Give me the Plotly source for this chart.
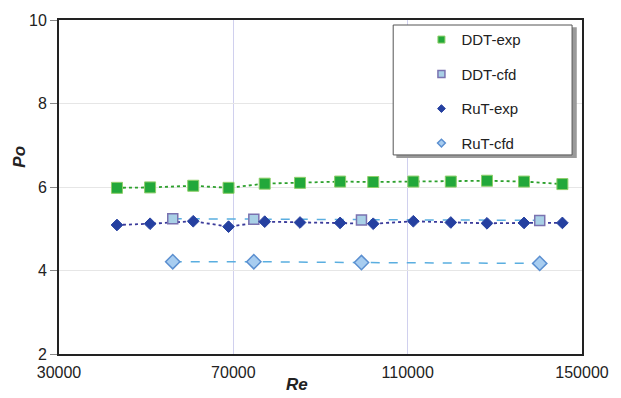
import plotly.graph_objects as go

# Data
re_exp = [43300, 50900, 60800, 68900, 77200, 85300, 94500, 102100, 111300, 119900, 128200, 136700, 145500]
po_ddt_exp = [5.98, 5.99, 6.03, 5.98, 6.08, 6.10, 6.13, 6.12, 6.13, 6.13, 6.15, 6.13, 6.07]
po_rut_exp = [5.09, 5.12, 5.18, 5.05, 5.17, 5.15, 5.14, 5.12, 5.18, 5.15, 5.13, 5.14, 5.14]
re_cfd = [56100, 74700, 99400, 140300]
po_ddt_cfd = [5.24, 5.23, 5.21, 5.20]
po_rut_cfd = [4.21, 4.21, 4.19, 4.17]

x_ticks = [30000, 70000, 110000, 150000]
y_ticks = [2, 4, 6, 8, 10]

series_names = ["DDT-exp", "DDT-cfd", "RuT-exp", "RuT-cfd"]

styles = {
    "DDT-exp": dict(symbol="square", color="#22a83a", line=dict(color="#8fcf6a", width=1)),
    "DDT-cfd": dict(symbol="square", color="#a9d0e6", line=dict(color="#7a72b0", width=1.5)),
    "RuT-exp": dict(symbol="diamond", color="#2540a0", line=dict(color="#2540a0", width=1)),
    "RuT-cfd": dict(symbol="diamond", color="#a8cdf0", line=dict(color="#5b8fd0", width=1.5)),
}

fig = go.Figure()

# connecting lines
fig.add_trace(go.Scatter(x=re_exp, y=po_ddt_exp, mode="lines", showlegend=False,
                         line=dict(color="#2ca02c", width=1.8, dash="dot"), hoverinfo="skip"))
fig.add_trace(go.Scatter(x=re_exp, y=po_rut_exp, mode="lines", showlegend=False,
                         line=dict(color="#3a3a9a", width=1.8, dash="dot"), hoverinfo="skip"))
fig.add_trace(go.Scatter(x=re_cfd, y=po_ddt_cfd, mode="lines", showlegend=False,
                         line=dict(color="#5aaee0", width=1.5, dash="dash"), hoverinfo="skip"))
fig.add_trace(go.Scatter(x=re_cfd, y=po_rut_cfd, mode="lines", showlegend=False,
                         line=dict(color="#5aaee0", width=1.5, dash="dash"), hoverinfo="skip"))

# markers
data_sets = {
    "DDT-exp": (re_exp, po_ddt_exp, 11),
    "DDT-cfd": (re_cfd, po_ddt_cfd, 10),
    "RuT-exp": (re_exp, po_rut_exp, 9),
    "RuT-cfd": (re_cfd, po_rut_cfd, 11),
}
for nm in series_names:
    xs, ys, sz = data_sets[nm]
    st = styles[nm]
    fig.add_trace(go.Scatter(x=xs, y=ys, mode="markers", name=nm, showlegend=False,
                             marker=dict(size=sz, **st)))

# legend entries (small symbols as in the original legend)
legend_sizes = {"DDT-exp": 7, "DDT-cfd": 7, "RuT-exp": 6, "RuT-cfd": 6}
for i, nm in enumerate(series_names):
    fig.add_trace(go.Scatter(x=[None], y=[None], mode="markers", name=nm, legendgroup=str(i),
                             marker=dict(size=legend_sizes[nm], **styles[nm])))

# legend box (decoration) with shadow
fig.add_shape(type="rect", xref="paper", yref="paper", x0=0.645, x1=0.990, y0=0.587, y1=0.978,
              line=dict(width=0), fillcolor="#9a9a9a", layer="above")
fig.add_shape(type="rect", xref="paper", yref="paper", x0=0.639, x1=0.981, y0=0.596, y1=0.985,
              line=dict(color="#555555", width=1), fillcolor="white", layer="above")

fig.add_annotation(text="<b><i>Po</i></b>", xref="paper", yref="paper", x=-0.097, y=0.59,
                   showarrow=False, textangle=-90, font=dict(size=17, color="#222222"))
fig.add_annotation(text="<b><i>Re</i></b>", xref="paper", yref="paper", x=0.455, y=-0.125,
                   showarrow=False, font=dict(size=17, color="#222222"))

fig.update_layout(
    width=621, height=398,
    margin=dict(l=59, r=30, t=20, b=44),
    paper_bgcolor="white", plot_bgcolor="white",
    font=dict(family="Liberation Sans, Arial, sans-serif", size=16, color="#222222"),
    showlegend=True,
    legend=dict(x=0.693, y=0.99, xanchor="left", yanchor="top", bgcolor="rgba(0,0,0,0)",
                borderwidth=0, font=dict(size=15), tracegroupgap=12, itemwidth=30),
    xaxis=dict(range=[30000, 150000], tickvals=x_ticks, ticktext=[str(v) for v in x_ticks],
               showgrid=True, gridcolor="#d0d0ee", gridwidth=1,
               showline=True, linecolor="#222222", linewidth=2, mirror=True,
               ticks="", zeroline=False, ticklabelstandoff=3),
    yaxis=dict(range=[2, 10], tickvals=y_ticks, showgrid=True, gridcolor="#e6e6e6", gridwidth=1,
               showline=True, linecolor="#222222", linewidth=2, mirror=True,
               ticks="outside", ticklen=7, tickcolor="#888888", zeroline=False),
)

fig.write_html("out.html")
